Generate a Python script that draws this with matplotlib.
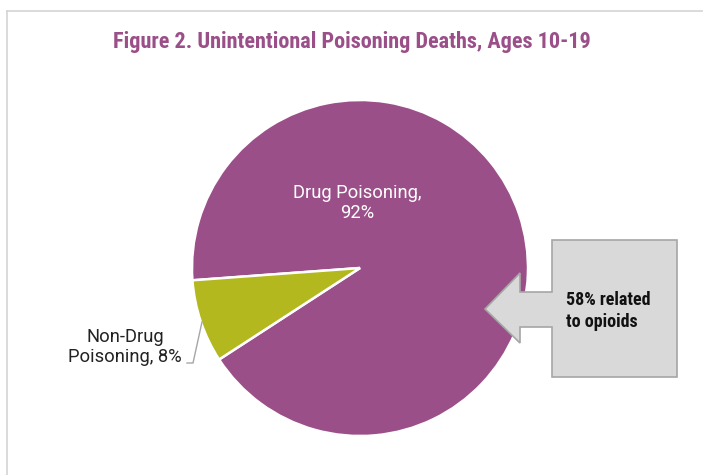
import matplotlib
matplotlib.use("Agg")
import matplotlib.pyplot as plt
from matplotlib.patches import Polygon
from matplotlib.lines import Line2D

categories = ["Drug Poisoning", "Non-Drug Poisoning"]
values = [92, 8]
colors = ["#9B4F89", "#B3B81F"]
title = "Figure 2. Unintentional Poisoning Deaths, Ages 10-19"
callout = "58% related\nto opioids"

W, H = 703, 475
fig = plt.figure(figsize=(W / 100, H / 100), dpi=100)
ax = fig.add_axes([0, 0, 1, 1])

def Y(py):
    return H - py

cx, cy, r = 360, Y(268), 168
ax.pie(values, colors=colors, startangle=184.2, counterclock=False,
       center=(cx, cy), radius=r,
       wedgeprops=dict(edgecolor="white", linewidth=1.8))
ax.set_xlim(0, W)
ax.set_ylim(0, H)
ax.set_aspect("equal")
ax.axis("off")

# outer frame lines
ax.add_line(Line2D([7, W], [Y(11), Y(11)], color="#D4D4D4", lw=1.2))
ax.add_line(Line2D([7, 7], [Y(11), 0], color="#D4D4D4", lw=1.2))

narrow = ["Roboto Condensed", "DejaVu Sans"]
body = ["Roboto", "DejaVu Sans"]
ax.text(352, Y(42), title, ha="center", va="center", color="#9B4F89",
        fontsize=16, fontweight="bold", family=narrow)

ax.text(357, Y(203), f"{categories[0]},\n{values[0]}%", ha="center", va="center",
        color="white", fontsize=13.2, linespacing=1.15, family=body)
ax.text(125, Y(347), "Non-Drug\n" + categories[1].split(" ")[1] + f", {values[1]}%",
        ha="center", va="center", color="#222222", fontsize=13.2, linespacing=1.15,
        family=body)
ax.add_line(Line2D([187, 193, 202], [Y(363), Y(363), Y(322)], color="#A6A6A6", lw=1))

# callout arrow
pts = [(552, 240), (677, 240), (677, 377), (552, 377), (552, 327), (520, 327),
       (520, 343), (485, 309), (520, 273), (520, 292), (552, 292)]
ax.add_patch(Polygon([(x, Y(y)) for x, y in pts], closed=True,
                     facecolor="#D9D9D9", edgecolor="#A6A6A6", lw=1.2, zorder=5))
ax.text(566, Y(311), callout, ha="left", va="center", color="#111111",
        fontsize=13, fontweight="bold", family=narrow, linespacing=1.25, zorder=6)

fig.savefig("out.png", dpi=100)
